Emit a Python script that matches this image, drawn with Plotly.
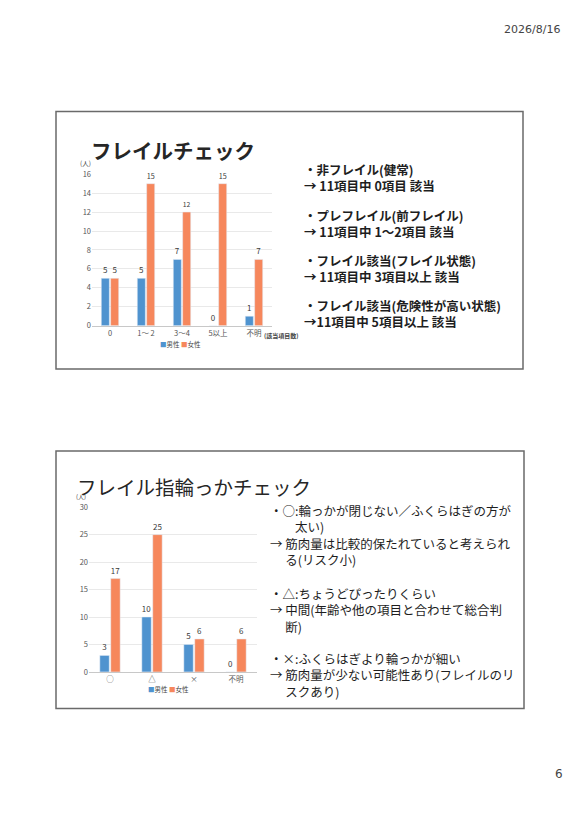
import plotly.graph_objects as go

W, H = 580, 820

# chart 1 : フレイルチェック
cats1 = ["0", "1～ 2", "3～4", "5以上", "不明"]
male1 = [5, 5, 7, 0, 1]
female1 = [5, 15, 12, 15, 7]
ticks1 = [0, 2, 4, 6, 8, 10, 12, 14, 16]

# chart 2 : フレイル指輪っかチェック
cats2 = ["○", "△", "×", "不明"]
male2 = [3, 10, 5, 0]
female2 = [17, 25, 6, 6]
ticks2 = [0, 5, 10, 15, 20, 25, 30]

series_names = ["男性", "女性"]
BLUE = "#4f93cf"
ORANGE = "#f6875c"
FONT = "Noto Sans CJK JP"

# right-hand notes, one entry per paragraph
text1 = [
    ["・非フレイル(健常)", "→ 11項目中 0項目 該当"],
    ["・プレフレイル(前フレイル)", "→ 11項目中 1～2項目 該当"],
    ["・フレイル該当(フレイル状態)", "→ 11項目中 3項目以上 該当"],
    ["・フレイル該当(危険性が高い状態)", "→11項目中 5項目以上 該当"],
]
text1_y = [173.5, 220, 266, 312]

text2 = [
    ["・○:輪っかが閉じない／ふくらはぎの方が", "　　太い)",
     "→ 筋肉量は比較的保たれていると考えられ", "　 る(リスク小)"],
    ["・△:ちょうどぴったりくらい",
     "→ 中間(年齢や他の項目と合わせて総合判", "　 断)"],
    ["・×:ふくらはぎより輪っかが細い",
     "→ 筋肉量が少ない可能性あり(フレイルのリ", "　 スクあり)"],
]
text2_y = [536, 612, 678]


def px(x):
    return x / W


def py(y):
    return 1 - y / H


fig = go.Figure()

for name, vals, col in zip(series_names, [male1, female1], [BLUE, ORANGE]):
    fig.add_trace(go.Bar(
        x=cats1, y=vals, name=name, marker_color=col,
        text=vals, textposition="outside", cliponaxis=False,
        textfont=dict(size=8, color="#3a3a3a", family=FONT),
        xaxis="x", yaxis="y", showlegend=False,
    ))

for name, vals, col in zip(series_names, [male2, female2], [BLUE, ORANGE]):
    fig.add_trace(go.Bar(
        x=cats2, y=vals, name=name, marker_color=col,
        text=vals, textposition="outside", cliponaxis=False,
        textfont=dict(size=8, color="#3a3a3a", family=FONT),
        xaxis="x2", yaxis="y2", showlegend=False,
    ))

axis_common = dict(
    showgrid=False, ticks="", tickfont=dict(size=7.5, color="#555", family=FONT),
    showline=True, linecolor="#c8c8c8", linewidth=1, fixedrange=True,
)
yaxis_common = dict(
    showgrid=True, gridcolor="#e9e9e9", gridwidth=1, zeroline=False,
    tickfont=dict(size=7.5, color="#555", family=FONT), ticks="",
    fixedrange=True,
)

annotations = []


def note(x, y, text, size, color="#222", bold=False, anchor="left", family=FONT):
    if bold:
        text = "<b>" + text + "</b>"
    annotations.append(dict(
        x=px(x), y=py(y), xref="paper", yref="paper", text=text,
        showarrow=False, xanchor=anchor, yanchor="middle", align="left",
        font=dict(size=size, color=color, family=family),
    ))


def legend_text():
    parts = []
    for name, col in zip(series_names, [BLUE, ORANGE]):
        parts.append("<span style='color:%s'>■</span>%s" % (col, name))
    return " ".join(parts)


note(562, 24, "2026/8/16", 11, color="#444", anchor="right", family="DejaVu Sans")
note(565, 778, "6", 12, color="#444", anchor="right", family="DejaVu Sans")

note(89, 146, "フレイルチェック", 20.5, color="#262626", bold=True)
note(75, 487, "フレイル指輪っかチェック", 19.5, color="#262626")

note(78, 159, "(人)", 6.5, color="#444")
note(74, 497, "(人)", 6, color="#444")
note(262, 334, "(該当項目数)", 6, color="#444", bold=True)

note(180, 343, legend_text(), 6.5, color="#444", anchor="center")
note(168, 692, legend_text(), 6.5, color="#444", anchor="center")

for lines, y in zip(text1, text1_y):
    note(302, y, "<br>".join("<b>%s</b>" % s for s in lines), 12.5, color="#1e1e1e")

for lines, y in zip(text2, text2_y):
    note(268, y, "<br>".join(lines), 12.5, color="#1e1e1e")

shapes = [
    dict(type="rect", xref="paper", yref="paper",
         x0=px(56), x1=px(523), y0=py(107), y1=py(368),
         line=dict(color="#6a6a6a", width=1.5)),
    dict(type="rect", xref="paper", yref="paper",
         x0=px(56), x1=px(524), y0=py(451), y1=py(712),
         line=dict(color="#6a6a6a", width=1.5)),
]

fig.update_layout(
    width=W, height=H,
    margin=dict(l=0, r=0, t=0, b=0),
    paper_bgcolor="white", plot_bgcolor="white",
    font=dict(family=FONT),
    barmode="group", bargap=0.48, bargroupgap=0.14,
    showlegend=False,
    xaxis=dict(domain=[px(92), px(272)], anchor="y", **axis_common),
    yaxis=dict(domain=[py(324), py(170.5)], range=[0, 16], tickvals=ticks1,
               anchor="x", **yaxis_common),
    xaxis2=dict(domain=[px(89), px(257)], anchor="y2", **axis_common),
    yaxis2=dict(domain=[py(675), py(508)], range=[0, 30], tickvals=ticks2,
                anchor="x2", **yaxis_common),
    annotations=annotations,
    shapes=shapes,
)

fig.write_html("out.html", config={"displayModeBar": False},
               post_script="document.body.style.margin='0';")
